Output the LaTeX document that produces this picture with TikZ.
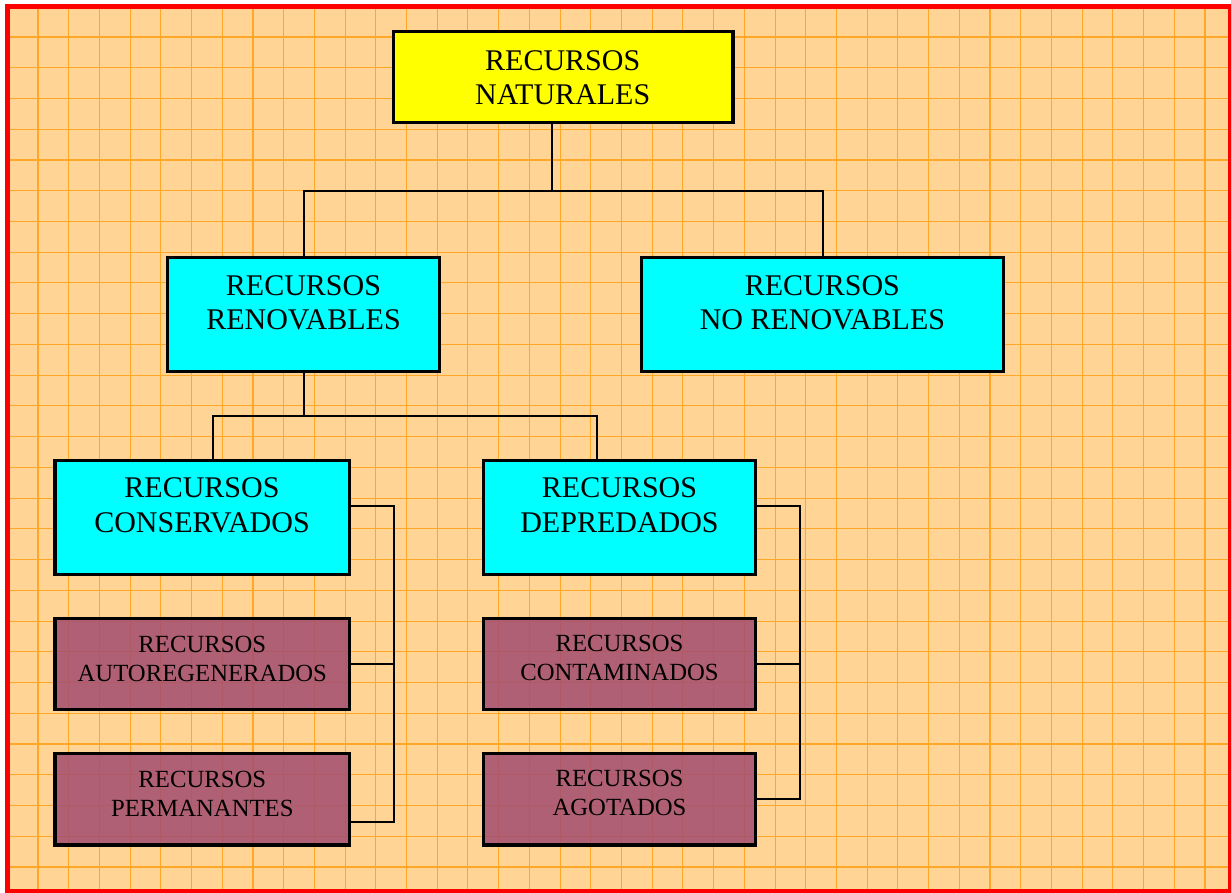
\documentclass[tikz,border=0pt]{standalone}
\usepackage{fontspec}
\setmainfont{Liberation Serif}
\definecolor{bg}{RGB}{255,212,148}
\definecolor{gridc}{RGB}{255,168,40}
\definecolor{mauve}{RGB}{164,78,112}
\definecolor{frame}{RGB}{255,0,0}
\definecolor{boxyellow}{RGB}{255,255,0}
\definecolor{boxcyan}{RGB}{0,255,255}
\begin{document}
\begin{tikzpicture}[x=1pt,y=-1pt,
  boxbase/.style={draw=black, line width=2.2pt, inner sep=0pt},
  yellowbox/.style={boxbase, fill=boxyellow},
  cyanbox/.style={boxbase, fill=boxcyan},
  mauvebox/.style={boxbase, fill=mauve, fill opacity=0.86},
  bigtext/.style={font=\fontsize{30}{34.5}\selectfont, align=center, inner sep=0pt, anchor=north},
  smalltext/.style={font=\fontsize{24.7}{29}\selectfont, align=center, inner sep=0pt, anchor=north},
  conn/.style={draw=black, line width=2pt}]
\useasboundingbox (0,0) rectangle (1231,892);
\fill[white] (0,0) rectangle (1231,892);
\fill[bg] (5,4) rectangle (1231,892);
\foreach \i in {0,...,39} \draw[gridc, line width=1.1pt] ({38+30.71*\i},4) -- ++(0,888);
\foreach \i in {0,...,28} \draw[gridc, line width=1.1pt] (5,{37+30.74*\i}) -- ++(1226,0);
\draw[frame, line width=5pt] (7.5,6.8) rectangle (1230.5,891.5);

% junction coordinates
\coordinate (j1) at (552.3,190.5);
\coordinate (j2) at (304,415.7);
\coordinate (c1) at (213.3,415.7);
\coordinate (c2) at (596.7,415.7);
\coordinate (v1) at (394,506);
\coordinate (v1b) at (394,821.7);
\coordinate (v2) at (800,506);

% boxes (positions)
\node[yellowbox, minimum width=338.3pt, minimum height=89.4pt] (nat) at (563.2,77) {};
\node[cyanbox, minimum width=270.7pt, minimum height=112.4pt] (ren) at (303.7,314.5) {};
\node[cyanbox, minimum width=360.7pt, minimum height=112.4pt] (nren) at (822.7,314.5) {};
\node[cyanbox, minimum width=293.3pt, minimum height=112.7pt] (con) at (202.3,517.3) {};
\node[cyanbox, minimum width=271pt, minimum height=112.7pt] (dep) at (619.5,517.3) {};
\node[mauvebox, minimum width=293.3pt, minimum height=90pt] (auto) at (202.3,664) {};
\node[mauvebox, minimum width=293.3pt, minimum height=90pt] (perm) at (202.3,799.3) {};
\node[mauvebox, minimum width=271pt, minimum height=90pt] (cont) at (619.5,664) {};
\node[mauvebox, minimum width=271pt, minimum height=90pt] (agot) at (619.5,799.3) {};

% connectors
\draw[conn] (j1 |- nat.south) -- (j1);
\draw[conn] (ren.north) -- (ren.north |- j1) -- (nren.north |- j1) -- (nren.north);
\draw[conn] (ren.south) -- (ren.south |- j2);
\draw[conn] (c1 |- con.north) -- (c1) -- (c2) -- (c2 |- dep.north);
\draw[conn] (v1 -| con.east) -- (v1) -- (v1b) -- (v1b -| perm.east);
\draw[conn] (auto.east) -- (auto.east -| v1);
\draw[conn] (v2 -| dep.east) -- (v2) -- (v2 |- agot.east) -- (agot.east);
\draw[conn] (cont.east) -- (cont.east -| v2);

% redraw box borders over connector ends
\foreach \b in {nat,ren,nren,con,dep,auto,perm,cont,agot}
  \draw[line width=2.2pt] (\b.north west) rectangle (\b.south east);

% texts
\node[bigtext] (nat-t) at (562.7,45) {\rule{0pt}{25pt}RECURSOS\\NATURALES};
\node[bigtext] (ren-t) at (303.5,270) {\rule{0pt}{25pt}RECURSOS\\RENOVABLES};
\node[bigtext] (nren-t) at (822.4,270) {\rule{0pt}{25pt}RECURSOS\\NO RENOVABLES};
\node[bigtext] (con-t) at (202,472.7) {\rule{0pt}{25pt}RECURSOS\\CONSERVADOS};
\node[bigtext] (dep-t) at (619.5,472.7) {\rule{0pt}{25pt}RECURSOS\\DEPREDADOS};
\node[smalltext] (auto-t) at (202.3,632) {\rule{0pt}{20pt}RECURSOS\\AUTOREGENERADOS};
\node[smalltext] (perm-t) at (202.3,767) {\rule{0pt}{20pt}RECURSOS\\PERMANANTES};
\node[smalltext] (cont-t) at (619.5,631.7) {\rule{0pt}{20pt}RECURSOS\\CONTAMINADOS};
\node[smalltext] (agot-t) at (619.5,766.7) {\rule{0pt}{20pt}RECURSOS\\AGOTADOS};
\end{tikzpicture}
\end{document}
